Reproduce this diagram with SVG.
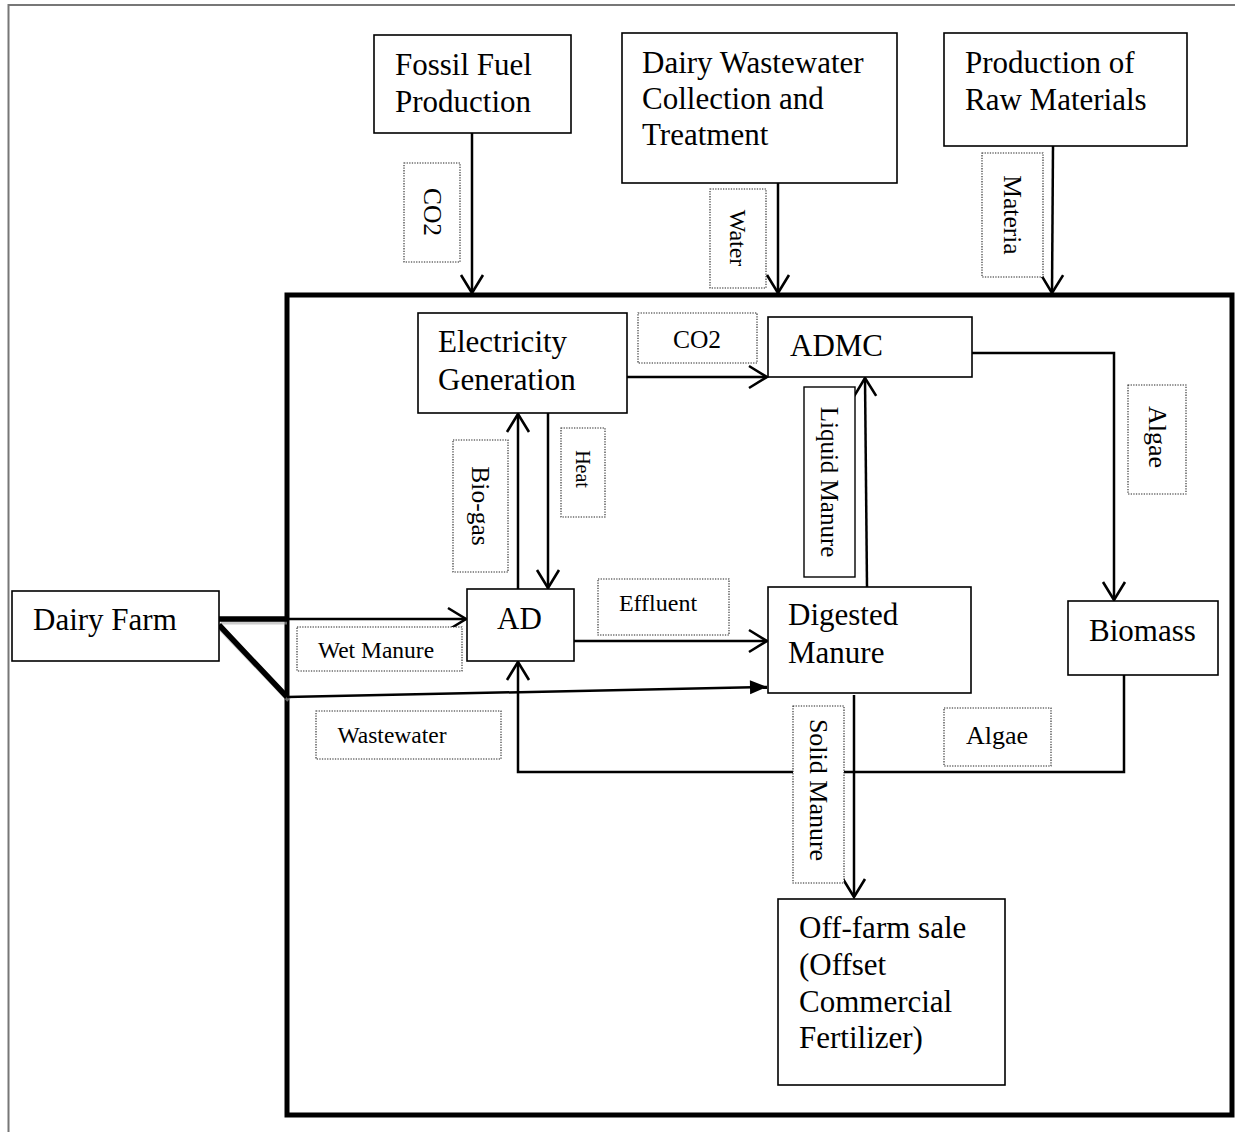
<svg xmlns="http://www.w3.org/2000/svg" width="1235" height="1132" viewBox="0 0 1235 1132">
<defs>
<style>
.box{fill:#fff;stroke:#000;stroke-width:1.6}
.lbl{fill:#fff;stroke:#222;stroke-width:1.1;stroke-dasharray:1.3 1.3}
.lbls{fill:#fff;stroke:#000;stroke-width:1.4}
.t{font-family:"Liberation Serif","Times New Roman",serif;font-size:31px;fill:#000}
.s{font-family:"Liberation Serif","Times New Roman",serif;fill:#000}
.c{fill:none;stroke:#000;stroke-width:2.5}
.thick{fill:none;stroke:#000;stroke-width:5.5}
.shadow{fill:none;stroke:#aaa;stroke-width:5;opacity:0.6}
</style>
<marker id="open" markerUnits="userSpaceOnUse" markerWidth="30" markerHeight="30" viewBox="-22 -15 26 30" refX="0" refY="0" orient="auto">
<path d="M-18,-11 L0,0 L-18,11" fill="none" stroke="#000" stroke-width="2.6"/>
</marker>
<marker id="filled" markerUnits="userSpaceOnUse" markerWidth="30" markerHeight="30" viewBox="-20 -15 24 30" refX="0" refY="0" orient="auto">
<path d="M-17,-7 L0,0 L-17,7 Z" fill="#000"/>
</marker>
</defs>
<rect width="1235" height="1132" fill="#fff"/>
<path d="M8.5,1132 V5 H1235" fill="none" stroke="#777" stroke-width="2"/>
<rect id="system-boundary" x="287" y="295" width="945" height="820" fill="none" stroke="#000" stroke-width="5"/>

<g id="connectors">
<path class="c" d="M472,133 V293" marker-end="url(#open)"/>
<path class="c" d="M778,183 V293" marker-end="url(#open)"/>
<path class="c" d="M1053,146 L1052,293" marker-end="url(#open)"/>
<path class="c" d="M627,377 H767" marker-end="url(#open)"/>
<path class="c" d="M972,353 H1114 V600" stroke-width="2.2" marker-end="url(#open)"/>
<path class="c" d="M867,587 L865,378" marker-end="url(#open)"/>
<path class="c" d="M518,589 V414" marker-end="url(#open)"/>
<path class="c" d="M548,413 V588" marker-end="url(#open)"/>
<path class="c" d="M574,641 H767" marker-end="url(#open)"/>
<path class="c" d="M1124,675 V772 H518 V662" marker-end="url(#open)"/>
<path class="c" d="M854,695 V897" marker-end="url(#open)"/>
<path class="shadow" d="M221,622 H287 M221,629 L289,700"/>
<path class="thick" d="M219,619 H287 M219,625 L287,697"/>
<path class="c" d="M287,619 H466" marker-end="url(#open)"/>
<path class="c" d="M287,697 L767,687" stroke-width="3" marker-end="url(#filled)"/>
</g>

<g id="fossil-fuel">
<rect class="box" x="374" y="35" width="197" height="98"/>
<text class="t" x="395" y="75">Fossil Fuel</text>
<text class="t" x="395" y="112">Production</text>
</g>
<g id="dairy-wastewater">
<rect class="box" x="622" y="33" width="275" height="150"/>
<text class="t" x="642" y="73">Dairy Wastewater</text>
<text class="t" x="642" y="109">Collection and</text>
<text class="t" x="642" y="145">Treatment</text>
</g>
<g id="raw-materials">
<rect class="box" x="944" y="33" width="243" height="113"/>
<text class="t" x="965" y="73">Production of</text>
<text class="t" x="965" y="110">Raw Materials</text>
</g>
<g id="electricity">
<rect class="box" x="418" y="313" width="209" height="100"/>
<text class="t" x="438" y="352">Electricity</text>
<text class="t" x="438" y="390">Generation</text>
</g>
<g id="admc">
<rect class="box" x="768" y="317" width="204" height="60"/>
<text class="t" x="790" y="356">ADMC</text>
</g>
<g id="dairy-farm">
<rect class="box" x="12" y="591" width="207" height="70"/>
<text class="t" x="33" y="630">Dairy Farm</text>
</g>
<g id="ad">
<rect class="box" x="467" y="589" width="107" height="72"/>
<text class="t" x="497" y="629">AD</text>
</g>
<g id="digested-manure">
<rect class="box" x="768" y="587" width="203" height="106"/>
<text class="t" x="788" y="625">Digested</text>
<text class="t" x="788" y="663">Manure</text>
</g>
<g id="biomass">
<rect class="box" x="1068" y="601" width="150" height="74"/>
<text class="t" x="1089" y="641">Biomass</text>
</g>
<g id="off-farm">
<rect class="box" x="778" y="899" width="227" height="186"/>
<text class="t" x="799" y="938">Off-farm sale</text>
<text class="t" x="799" y="975">(Offset</text>
<text class="t" x="799" y="1012">Commercial</text>
<text class="t" x="799" y="1048">Fertilizer)</text>
</g>

<g id="labels">
<g id="lbl-co2-top">
<rect class="lbl" x="404" y="163" width="56" height="99"/>
<text class="s" font-size="25.5" transform="translate(432,212) rotate(90)" text-anchor="middle" dominant-baseline="central">CO2</text>
</g>
<g id="lbl-water">
<rect class="lbl" x="710" y="189" width="56" height="99"/>
<text class="s" font-size="24" transform="translate(738,238) rotate(90)" text-anchor="middle" dominant-baseline="central">Water</text>
</g>
<g id="lbl-materia">
<rect class="lbl" x="982" y="153" width="61" height="124"/>
<text class="s" font-size="25.5" transform="translate(1012,215) rotate(90)" text-anchor="middle" dominant-baseline="central">Materia</text>
</g>
<g id="lbl-co2">
<rect class="lbl" x="638" y="313" width="119" height="50"/>
<text class="s" font-size="25.5" x="697" y="348" text-anchor="middle">CO2</text>
</g>
<g id="lbl-biogas">
<rect class="lbl" x="453" y="440" width="55" height="132"/>
<text class="s" font-size="25.5" transform="translate(480,506) rotate(90)" text-anchor="middle" dominant-baseline="central">Bio-gas</text>
</g>
<g id="lbl-heat">
<rect class="lbl" x="561" y="428" width="44" height="89"/>
<text class="s" font-size="20" transform="translate(583,469) rotate(90)" text-anchor="middle" dominant-baseline="central">Heat</text>
</g>
<g id="lbl-liquid">
<rect class="lbls" x="804" y="387" width="51" height="190"/>
<text class="s" font-size="25" transform="translate(829,482) rotate(90)" text-anchor="middle" dominant-baseline="central">Liquid Manure</text>
</g>
<g id="lbl-algae-v">
<rect class="lbl" x="1128" y="385" width="58" height="109"/>
<text class="s" font-size="26" transform="translate(1157,437) rotate(90)" text-anchor="middle" dominant-baseline="central">Algae</text>
</g>
<g id="lbl-effluent">
<rect class="lbl" x="598" y="579" width="131" height="56"/>
<text class="s" font-size="24" x="658" y="611" text-anchor="middle">Effluent</text>
</g>
<g id="lbl-wet">
<rect class="lbl" x="297" y="627" width="165" height="44"/>
<text class="s" font-size="23.5" x="376" y="658" text-anchor="middle">Wet Manure</text>
</g>
<g id="lbl-wastewater">
<rect class="lbl" x="316" y="711" width="185" height="48"/>
<text class="s" font-size="23.5" x="392" y="743" text-anchor="middle">Wastewater</text>
</g>
<g id="lbl-algae-h">
<rect class="lbl" x="944" y="708" width="107" height="58"/>
<text class="s" font-size="26" x="997" y="744" text-anchor="middle">Algae</text>
</g>
<g id="lbl-solid">
<rect class="lbl" x="793" y="706" width="51" height="177"/>
<text class="s" font-size="26" transform="translate(818,790) rotate(90)" text-anchor="middle" dominant-baseline="central">Solid Manure</text>
</g>
</g>
</svg>
